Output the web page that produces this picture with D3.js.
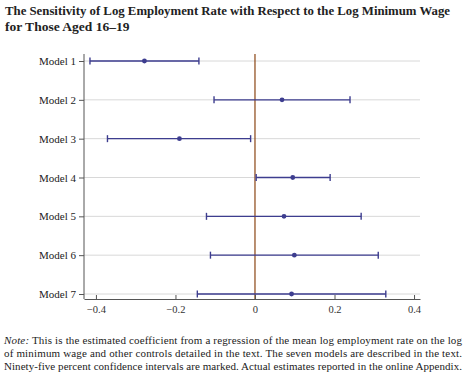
<!DOCTYPE html>
<html>
<head>
<meta charset="utf-8">
<script src="https://cdn.jsdelivr.net/npm/d3@7"></script>
<style>
  body { margin: 0; background: #fff; }
  svg { display: block; }
</style>
</head>
<body>
<div id="chart"></div>
<script>
const models = ['Model 1', 'Model 2', 'Model 3', 'Model 4', 'Model 5', 'Model 6', 'Model 7'];
const estimates = [-0.278, 0.068, -0.190, 0.095, 0.073, 0.099, 0.092];
const lower = [-0.415, -0.103, -0.371, 0.003, -0.122, -0.112, -0.145];
const upper = [-0.141, 0.239, -0.011, 0.189, 0.267, 0.310, 0.329];
const xTicks = [-0.4, -0.2, 0, 0.2, 0.4];

const titleLines = [
  'The Sensitivity of Log Employment Rate with Respect to the Log Minimum Wage',
  'for Those Aged 16\u201319'
];
const noteLines = [
  ' This is the estimated coefficient from a regression of the mean log employment rate on the log',
  'of minimum wage and other controls detailed in the text. The seven models are described in the text.',
  'Ninety-five percent confidence intervals are marked. Actual estimates reported in the online Appendix.'
];

const W = 476, H = 384;
const serif = '"Liberation Serif", "Times New Roman", serif';
const barColor = '#3d3d8f';

const svg = d3.select('#chart').append('svg')
  .attr('width', W)
  .attr('height', H);

// title
svg.append('text')
  .attr('x', 5).attr('y', 15)
  .attr('font-family', serif).attr('font-weight', 'bold').attr('font-size', 13.5)
  .attr('fill', '#222')
  .attr('textLength', 445).attr('lengthAdjust', 'spacingAndGlyphs')
  .text(titleLines[0]);
svg.append('text')
  .attr('x', 5).attr('y', 31)
  .attr('font-family', serif).attr('font-weight', 'bold').attr('font-size', 13.5)
  .attr('fill', '#222')
  .text(titleLines[1]);

const x = d3.scaleLinear().domain([-0.43, 0.415]).range([84, 420]);
const y = d3.scalePoint().domain(models).range([61, 294]);
const axisY = 299;
const topY = 54;

// gridlines
svg.append('g')
  .selectAll('line')
  .data(models)
  .join('line')
  .attr('x1', x.range()[0]).attr('x2', x.range()[1])
  .attr('y1', d => y(d)).attr('y2', d => y(d))
  .attr('stroke', '#d8d8d8').attr('stroke-width', 1);

// zero line
svg.append('line')
  .attr('x1', x(0)).attr('x2', x(0))
  .attr('y1', topY).attr('y2', axisY)
  .attr('stroke', '#8b4513').attr('stroke-width', 1.2);

// x axis (ticks pointing inward)
const gx = svg.append('g')
  .attr('transform', `translate(0, ${axisY})`)
  .call(d3.axisBottom(x).tickValues(xTicks).tickSizeInner(-4).tickSizeOuter(0)
    .tickFormat(d => d === 0 ? '0' : d3.format('.1f')(d).replace('-', '\u2212')));
gx.select('.domain').attr('stroke', '#555');
gx.selectAll('.tick line').attr('stroke', '#555');
gx.selectAll('.tick text')
  .attr('y', 7).attr('dy', '0.71em')
  .attr('font-family', serif).attr('font-size', 10.5).attr('fill', '#333');

// y axis
const gy = svg.append('g')
  .attr('transform', `translate(${x.range()[0]}, 0)`)
  .call(d3.axisLeft(y).tickSize(5).tickSizeOuter(0));
gy.select('.domain').attr('d', `M0,${topY}V${axisY}`).attr('stroke', '#555');
gy.selectAll('.tick line').attr('stroke', '#555');
gy.selectAll('.tick text')
  .attr('x', -8)
  .attr('font-family', serif).attr('font-size', 11).attr('fill', '#222');

// confidence intervals
const rows = models.map((m, i) => ({ m, est: estimates[i], lo: lower[i], hi: upper[i] }));
const g = svg.append('g');
g.selectAll('line.ci')
  .data(rows)
  .join('line')
  .attr('class', 'ci')
  .attr('x1', d => x(d.lo)).attr('x2', d => x(d.hi))
  .attr('y1', d => y(d.m)).attr('y2', d => y(d.m))
  .attr('stroke', barColor).attr('stroke-width', 1.4);
['lo', 'hi'].forEach(k => {
  g.selectAll('line.cap-' + k)
    .data(rows)
    .join('line')
    .attr('class', 'cap-' + k)
    .attr('x1', d => x(d[k])).attr('x2', d => x(d[k]))
    .attr('y1', d => y(d.m) - 3.5).attr('y2', d => y(d.m) + 3.5)
    .attr('stroke', barColor).attr('stroke-width', 1.4);
});
g.selectAll('circle')
  .data(rows)
  .join('circle')
  .attr('cx', d => x(d.est)).attr('cy', d => y(d.m))
  .attr('r', 2.4)
  .attr('fill', barColor);

// note
const note = svg.append('g')
  .attr('font-family', serif).attr('font-size', 11).attr('fill', '#222');
noteLines.forEach((line, i) => {
  const t = note.append('text')
    .attr('x', 4).attr('y', 344 + i * 13)
    .attr('textLength', 458).attr('lengthAdjust', 'spacing');
  if (i === 0) t.append('tspan').attr('font-style', 'italic').text('Note:');
  t.append('tspan').text(line);
});
</script>
</body>
</html>
